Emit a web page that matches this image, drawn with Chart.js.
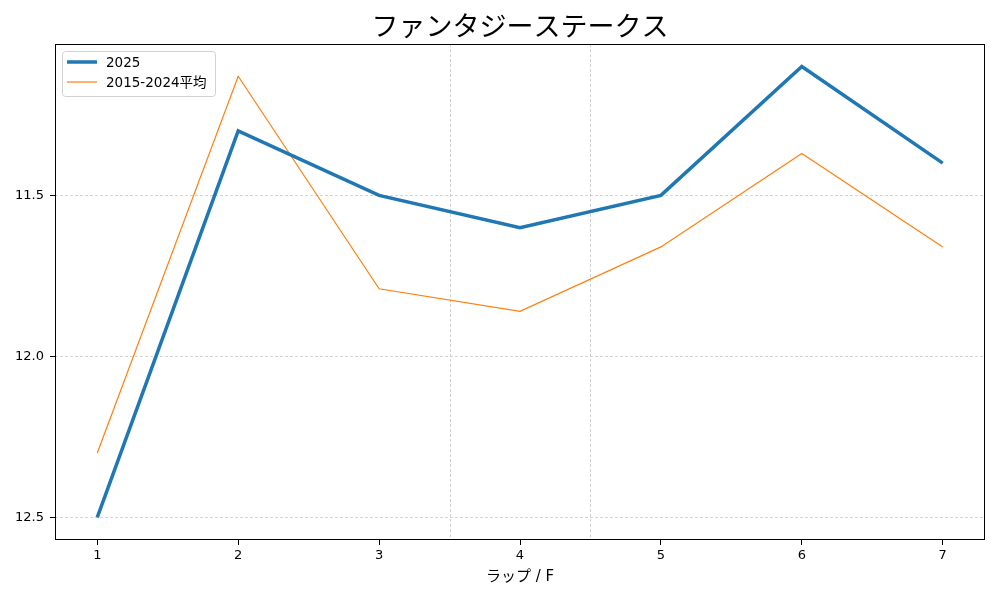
<!DOCTYPE html>
<html>
<head>
<meta charset="utf-8">
<script src="https://cdn.jsdelivr.net/npm/chart.js@4"></script>
<style>
  html, body { margin: 0; padding: 0; background: #fff; }
  #wrap { width: 1000px; height: 600px; }
</style>
</head>
<body>
<div id="wrap"><canvas id="lapChart" width="1000" height="600"></canvas></div>
<script>
// Lap numbers (furlong) and lap times
const laps = [1, 2, 3, 4, 5, 6, 7];
const lap2025 = [12.5, 11.3, 11.5, 11.6, 11.5, 11.1, 11.4];
const lapAvg = [12.3, 11.13, 11.79, 11.86, 11.66, 11.37, 11.66];
const yTicks = [11.5, 12.0, 12.5];
const sectionMarks = [3.5, 4.5];
const chartTitle = 'ファンタジーステークス';

const FONT = "'DejaVu Sans', 'Noto Sans CJK JP', sans-serif";

function toPoints(vals) {
    return laps.map((x, i) => ({ x: x, y: vals[i] }));
}

// title over the plot, frame, section lines and in-plot legend like matplotlib
const extras = {
    id: 'extras',
    beforeDatasetsDraw(chart) {
        const { ctx, chartArea, scales } = chart;
        ctx.save();
        ctx.strokeStyle = '#c4c4c4';
        ctx.lineWidth = 0.8;
        ctx.setLineDash([3, 2]);
        sectionMarks.forEach(v => {
            const px = Math.round(scales.x.getPixelForValue(v)) + 0.5;
            ctx.beginPath();
            ctx.moveTo(px, chartArea.top);
            ctx.lineTo(px, chartArea.bottom);
            ctx.stroke();
        });
        ctx.restore();
    },
    afterDraw(chart) {
        const { ctx, chartArea } = chart;
        ctx.save();
        ctx.fillStyle = '#000';
        ctx.font = '27px ' + FONT;
        ctx.textAlign = 'center';
        ctx.textBaseline = 'middle';
        ctx.fillText(chartTitle, (chartArea.left + chartArea.right) / 2, 29);

        ctx.textAlign = 'left';
        ctx.strokeStyle = '#000';
        ctx.lineWidth = 1;
        ctx.strokeRect(chartArea.left + 0.5, chartArea.top + 0.5,
            chartArea.right - chartArea.left - 1, chartArea.bottom - chartArea.top - 1);

        // legend box
        const bx = chartArea.left + 7, by = chartArea.top + 7;
        const bw = 153, bh = 45;
        ctx.fillStyle = 'rgba(255,255,255,0.8)';
        ctx.strokeStyle = '#d0d0d0';
        ctx.lineWidth = 1;
        ctx.beginPath();
        ctx.roundRect(bx + 0.5, by + 0.5, bw, bh, 3);
        ctx.fill();
        ctx.stroke();
        ctx.font = '13.5px ' + FONT;
        ctx.textBaseline = 'middle';
        chart.data.datasets.forEach((ds, i) => {
            const ry = by + 11 + i * 20;
            ctx.strokeStyle = ds.borderColor;
            ctx.lineWidth = ds.borderWidth;
            ctx.beginPath();
            ctx.moveTo(bx + 5, ry);
            ctx.lineTo(bx + 35, ry);
            ctx.stroke();
            ctx.fillStyle = '#000';
            ctx.fillText(ds.label, bx + 44, ry + 1);
        });
        ctx.restore();
    }
};

new Chart(document.getElementById('lapChart'), {
    type: 'line',
    data: {
        datasets: [
            {
                label: '2025',
                data: toPoints(lap2025),
                borderColor: '#1f77b4',
                borderWidth: 3.5,
                pointRadius: 0,
                tension: 0,
                fill: false
            },
            {
                label: '2015-2024平均',
                data: toPoints(lapAvg),
                borderColor: '#ff7f0e',
                borderWidth: 1.2,
                pointRadius: 0,
                tension: 0,
                fill: false
            }
        ]
    },
    options: {
        responsive: false,
        animation: false,
        layout: { padding: { left: 0, right: 15, top: 44, bottom: 0 } },
        plugins: {
            legend: { display: false },
            tooltip: { enabled: false },
            title: { display: false }
        },
        scales: {
            x: {
                type: 'linear',
                min: 0.7,
                max: 7.3,
                afterBuildTicks(scale) {
                    scale.ticks = laps.map(v => ({ value: v }));
                },
                afterFit(scale) { scale.height = 60; },
                border: { display: false },
                grid: {
                    drawOnChartArea: false,
                    tickColor: '#000',
                    tickLength: 5,
                    tickWidth: 1
                },
                ticks: {
                    color: '#000',
                    padding: 3,
                    font: { family: FONT, size: 13 },
                    callback: v => String(v)
                },
                title: {
                    display: true,
                    text: 'ラップ / F',
                    color: '#000',
                    font: { family: FONT, size: 15 },
                    padding: { top: 2, bottom: 14 }
                }
            },
            y: {
                type: 'linear',
                reverse: true,
                min: 11.03,
                max: 12.57,
                afterBuildTicks(scale) {
                    scale.ticks = yTicks.map(v => ({ value: v }));
                },
                afterFit(scale) { scale.width = 55; },
                border: { display: false, dash: [3, 2] },
                grid: {
                    color: '#b8b8b8',
                    lineWidth: 0.6,
                    tickColor: '#000',
                    tickLength: 5,
                    tickWidth: 1,
                    tickBorderDash: []
                },
                ticks: {
                    color: '#000',
                    padding: 6,
                    font: { family: FONT, size: 13 },
                    callback: v => v.toFixed(1)
                }
            }
        }
    },
    plugins: [extras]
});
</script>
</body>
</html>
